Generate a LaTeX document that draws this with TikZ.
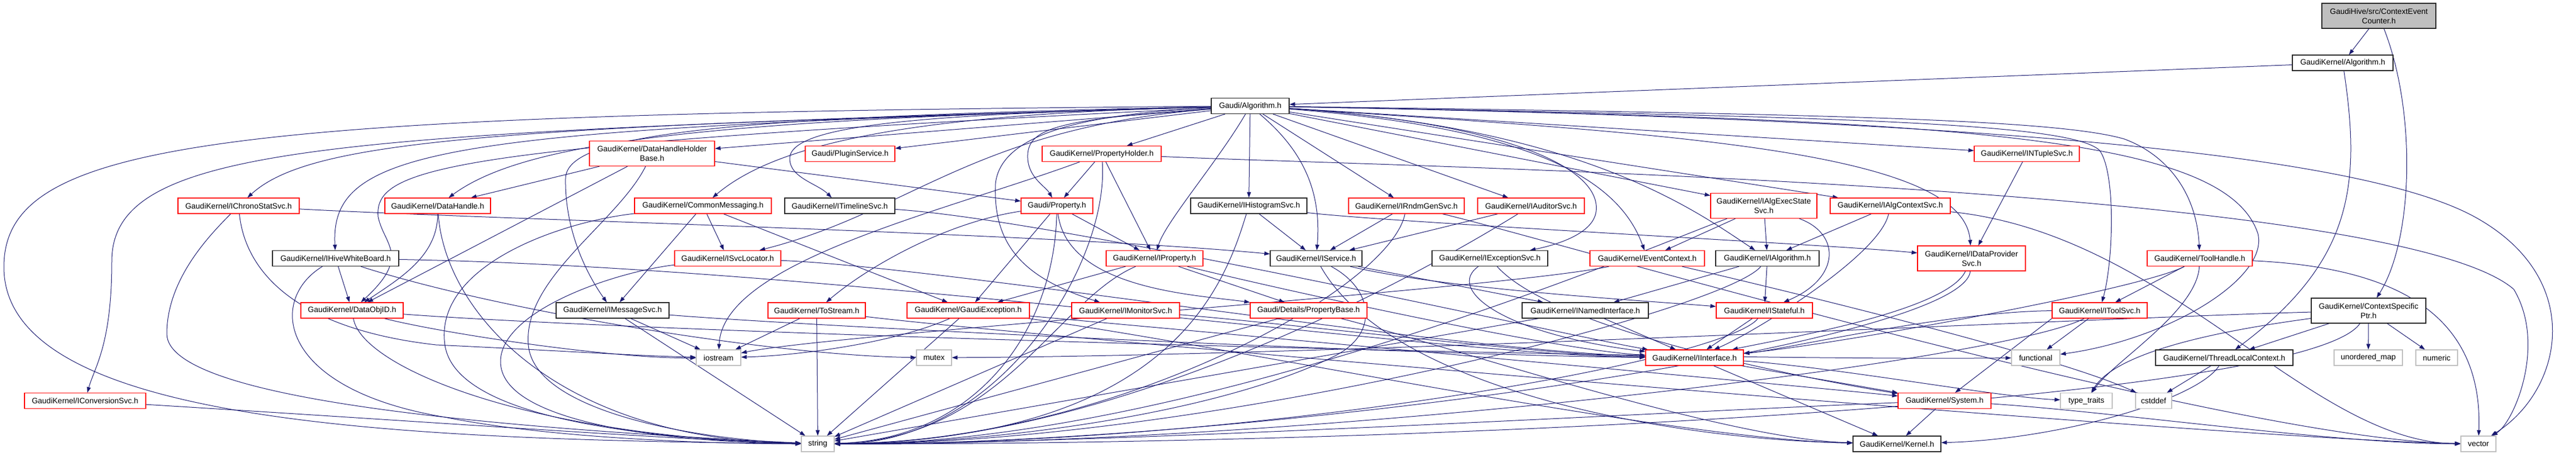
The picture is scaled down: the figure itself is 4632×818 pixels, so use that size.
\documentclass[tikz,border=0pt]{standalone}
\usepackage{fontspec}
\setmainfont{Liberation Sans}
\usetikzlibrary{arrows.meta,backgrounds}
\definecolor{edgeblue}{HTML}{191970}
\definecolor{boxgray}{HTML}{BFBFBF}
\begin{document}
\begin{tikzpicture}[x=1pt,y=1pt]
\tikzset{ >={Triangle[length=10pt,width=7pt]},
  hdrbase/.style={rectangle, fill=white, line width=1.2pt, inner sep=0pt,
    minimum height=28pt, font=\fontsize{14}{17}\selectfont, align=center},
  hdrtrunc/.style={hdrbase, draw=red},
  hdrfull/.style={hdrbase, draw=black!85},
  hdrstd/.style={hdrbase, draw=boxgray},
  hdrmain/.style={hdrbase, draw=black!85, fill=boxgray, minimum height=45pt},
  tallbox/.style={minimum height=45pt},
  dep/.style={->, draw=edgeblue, line width=1pt},
}
\useasboundingbox (0,0) rectangle (4632,-818);

%\draw [lightgray, dashed](0,0) grid (4632,-818);

% top
\node [hdrmain, minimum width=205pt] (cec) at (4277.5,-28.5) {GaudiHive/src/ContextEvent\\Counter.h};
\node [hdrfull, minimum width=181pt] (kalg) at (4212.5,-113) {GaudiKernel/Algorithm.h};
\node [hdrfull, minimum width=140pt] (galg) at (2248,-190.5) {Gaudi/Algorithm.h};

\node [hdrtrunc, tallbox, minimum width=225pt] (dhhb) at (1172.5,-276) {GaudiKernel/DataHandleHolder\\Base.h};
\node [hdrtrunc, minimum width=161pt] (plug) at (1528.5,-276.5) {Gaudi/PluginService.h};
\node [hdrtrunc, minimum width=214pt] (ph) at (1981,-276.5) {GaudiKernel/PropertyHolder.h};
\node [hdrtrunc, minimum width=189pt] (ntup) at (3644.5,-276.5) {GaudiKernel/INTupleSvc.h};

\node [hdrtrunc, minimum width=218pt] (chrono) at (429,-370) {GaudiKernel/IChronoStatSvc.h};
\node [hdrtrunc, minimum width=190pt] (dh) at (787,-370) {GaudiKernel/DataHandle.h};
\node [hdrtrunc, minimum width=246pt] (cm) at (1264,-370) {GaudiKernel/CommonMessaging.h};
\node [hdrfull, minimum width=198pt] (tl) at (1510,-370) {GaudiKernel/ITimelineSvc.h};
\node [hdrtrunc, minimum width=129pt] (prop) at (1900.5,-370) {Gaudi/Property.h};
\node [hdrfull, minimum width=209pt] (hist) at (2245.5,-370) {GaudiKernel/IHistogramSvc.h};
\node [hdrtrunc, minimum width=208pt] (rndm) at (2529,-370) {GaudiKernel/IRndmGenSvc.h};
\node [hdrtrunc, minimum width=192pt] (aud) at (2753,-370) {GaudiKernel/IAuditorSvc.h};
\node [hdrtrunc, tallbox, minimum width=191pt] (aes) at (3171.5,-370) {GaudiKernel/IAlgExecState\\Svc.h};
\node [hdrtrunc, minimum width=216pt] (acs) at (3399,-370) {GaudiKernel/IAlgContextSvc.h};

\node [hdrfull, minimum width=227pt] (hwb) at (603.5,-464.5) {GaudiKernel/IHiveWhiteBoard.h};
\node [hdrtrunc, minimum width=191pt] (svcloc) at (1308.5,-464.5) {GaudiKernel/ISvcLocator.h};
\node [hdrtrunc, minimum width=174pt] (iprop) at (2076,-464.5) {GaudiKernel/IProperty.h};
\node [hdrfull, minimum width=165pt] (isvc) at (2366.5,-464.5) {GaudiKernel/IService.h};
\node [hdrfull, minimum width=208pt] (exc) at (2679,-464.5) {GaudiKernel/IExceptionSvc.h};
\node [hdrtrunc, minimum width=206pt] (evc) at (2962,-464.5) {GaudiKernel/EventContext.h};
\node [hdrfull, minimum width=186pt] (ialg) at (3178,-464.5) {GaudiKernel/IAlgorithm.h};
\node [hdrtrunc, tallbox, minimum width=194pt] (dps) at (3545,-464.5) {GaudiKernel/IDataProvider\\Svc.h};
\node [hdrtrunc, minimum width=189pt] (th) at (3955.5,-464.5) {GaudiKernel/ToolHandle.h};

\node [hdrtrunc, minimum width=184pt] (doid) at (633,-558) {GaudiKernel/DataObjID.h};
\node [hdrfull, minimum width=203pt] (msg) at (1101.5,-558) {GaudiKernel/IMessageSvc.h};
\node [hdrtrunc, minimum width=175pt] (tos) at (1468.5,-558) {GaudiKernel/ToStream.h};
\node [hdrtrunc, minimum width=220pt] (gex) at (1741,-558) {GaudiKernel/GaudiException.h};
\node [hdrtrunc, minimum width=194pt] (mon) at (2024,-558) {GaudiKernel/IMonitorSvc.h};
\node [hdrtrunc, minimum width=210pt] (pb) at (2353,-558) {Gaudi/Details/PropertyBase.h};
\node [hdrfull, minimum width=227pt] (nif) at (2850.5,-558) {GaudiKernel/INamedInterface.h};
\node [hdrtrunc, minimum width=173pt] (stf) at (3172.5,-558) {GaudiKernel/IStateful.h};
\node [hdrtrunc, minimum width=171pt] (tsvc) at (3775.5,-558) {GaudiKernel/IToolSvc.h};
\node [hdrfull, tallbox, minimum width=206pt] (csp) at (4259,-558.5) {GaudiKernel/ContextSpecific\\Ptr.h};

\node [hdrstd, minimum width=80pt] (iostream) at (1292,-643) {iostream};
\node [hdrstd, minimum width=63pt] (mutex) at (1679.5,-643) {mutex};
\node [hdrtrunc, minimum width=176pt] (iif) at (3047,-643) {GaudiKernel/IInterface.h};
\node [hdrstd, minimum width=87pt] (functional) at (3660.5,-643) {functional};
\node [hdrfull, minimum width=247pt] (tlc) at (3999.5,-643) {GaudiKernel/ThreadLocalContext.h};
\node [hdrstd, minimum width=123pt] (umap) at (4258.5,-643) {unordered\_map};
\node [hdrstd, minimum width=75pt] (numeric) at (4381.5,-643) {numeric};

\node [hdrtrunc, minimum width=218pt] (conv) at (153,-720.5) {GaudiKernel/IConversionSvc.h};
\node [hdrtrunc, minimum width=167pt] (sys) at (3496.5,-720.5) {GaudiKernel/System.h};
\node [hdrstd, minimum width=93pt] (tt) at (3751.5,-720.5) {type\_traits};
\node [hdrstd, minimum width=65pt] (cstddef) at (3872.5,-720.5) {cstddef};

\node [hdrstd, minimum width=59pt] (string) at (1470.5,-798) {string};
\node [hdrfull, minimum width=158pt] (kernel) at (3411,-798) {GaudiKernel/Kernel.h};
\node [hdrstd, minimum width=63pt] (vector) at (4456.5,-798) {vector};

\begin{scope}[on background layer]
% root file
\draw [dep] (cec) -- (kalg);
\draw [dep] (cec) .. controls (4345,-200) and (4340,-430) .. (csp);
\draw [dep] (kalg) -- (galg);
\draw [dep] (kalg) .. controls (4245,-330) and (4232,-470) .. (tlc);

% Gaudi/Algorithm.h
\draw [dep] (galg) .. controls (400,-205) and (7,-250) .. (7,-480) .. controls (7,-760) and (700,-790) .. (string);
\draw [dep] (galg) .. controls (600,-240) and (201,-255) .. (201,-470) .. controls (201,-620) and (170,-660) .. (conv);
\draw [dep] (galg) .. controls (900,-228) and (560,-250) .. (chrono);
\draw [dep] (galg) .. controls (800,-232) and (593,-262) .. (hwb);
\draw [dep] (galg) .. controls (800,-262) and (672,-300) .. (680,-390) .. controls (690,-440) and (740,-460) .. (doid);
\draw [dep] (galg) .. controls (1300,-215) and (950,-250) .. (dh);
\draw [dep] (galg) -- (dhhb);
\draw [dep] (galg) .. controls (1650,-205) and (1400,-255) .. (cm);
\draw [dep] (galg) .. controls (1700,-205) and (1420,-220) .. (1420,-285) .. controls (1420,-320) and (1470,-330) .. (tl);
\draw [dep] (galg) -- (plug);
\draw [dep] (galg) -- (ph);
\draw [dep] (galg) .. controls (1900,-215) and (1845,-230) .. (1848,-285) .. controls (1850,-320) and (1880,-335) .. (prop);
\draw [dep] (galg) -- (hist);
\draw [dep] (galg) .. controls (2190,-290) and (2095,-400) .. (iprop);
\draw [dep] (galg) .. controls (1950,-205) and (1800,-240) .. (1790,-330) .. controls (1785,-440) and (1840,-500) .. (mon);
\draw [dep] (galg) .. controls (1300,-210) and (1020,-240) .. (1017,-320) .. controls (1015,-420) and (1060,-500) .. (msg);
\draw [dep] (galg) .. controls (1750,-230) and (1640,-380) .. (svcloc);
\draw [dep] (galg) .. controls (2330,-260) and (2378,-330) .. (isvc);
\draw [dep] (galg) -- (rndm);
\draw [dep] (galg) -- (aud);
\draw [dep] (galg) -- (aes);
\draw [dep] (galg) -- (acs);
\draw [dep] (galg) -- (ntup);
\draw [dep] (galg) .. controls (2700,-220) and (2880,-300) .. (2870,-380) .. controls (2865,-420) and (2800,-440) .. (exc);
\draw [dep] (galg) .. controls (2750,-230) and (2910,-320) .. (evc);
\draw [dep] (galg) .. controls (2850,-230) and (3050,-380) .. (ialg);
\draw [dep] (galg) .. controls (3000,-240) and (3530,-270) .. (dps);
\draw [dep] (galg) .. controls (3300,-205) and (3700,-215) .. (3820,-250) .. controls (3900,-280) and (3950,-350) .. (th);
\draw [dep] (galg) .. controls (3300,-210) and (3720,-220) .. (3775,-270) .. controls (3805,-310) and (3800,-470) .. (tsvc);
\draw [dep] (galg) .. controls (3500,-215) and (4000,-240) .. (4060,-420) .. controls (4080,-500) and (3900,-610) .. (functional);
\draw [dep] (galg) .. controls (3600,-215) and (4250,-280) .. (4450,-390) .. controls (4650,-500) and (4610,-700) .. (vector);

% second and third rows
\draw [dep] (dhhb) -- (dh);
\draw [dep] (dhhb) -- (doid);
\draw [dep] (dhhb) -- (prop);
\draw [dep] (dhhb) .. controls (1110,-400) and (940,-500) .. (950,-620) .. controls (960,-740) and (1250,-790) .. (string);
\draw [dep] (ph) -- (prop);
\draw [dep] (ph) -- (iprop);
\draw [dep] (ph) .. controls (1700,-380) and (1300,-470) .. (iostream);
\draw [dep] (ph) .. controls (1995,-470) and (1800,-798) .. (string);
\draw [dep] (ph) .. controls (2500,-300) and (4300,-330) .. (4520,-520) .. controls (4580,-620) and (4520,-760) .. (vector);
\draw [dep] (ntup) -- (dps);

\draw [dep] (chrono) .. controls (380,-420) and (300,-500) .. (300,-600) .. controls (300,-720) and (900,-770) .. (string);
\draw [dep] (chrono) .. controls (440,-480) and (520,-590) .. (784,-620) .. controls (1000,-630) and (1150,-640) .. (iostream);
\draw [dep] (chrono) .. controls (900,-395) and (1900,-420) .. (isvc);
\draw [dep] (dh) .. controls (787,-460) and (720,-500) .. (doid);
\draw [dep] (dh) .. controls (800,-560) and (1000,-790) .. (string);
\draw [dep] (cm) -- (msg);
\draw [dep] (cm) -- (svcloc);
\draw [dep] (cm) -- (gex);
\draw [dep] (cm) .. controls (1000,-400) and (780,-480) .. (800,-620) .. controls (820,-760) and (1200,-790) .. (string);
\draw [dep] (tl) .. controls (1900,-395) and (2800,-600) .. (iif);
\draw [dep] (prop) .. controls (1920,-520) and (2150,-530) .. (pb);
\draw [dep] (prop) -- (iprop);
\draw [dep] (prop) .. controls (1700,-400) and (1560,-480) .. (tos);
\draw [dep] (prop) -- (gex);
\draw [dep] (prop) .. controls (1895,-600) and (1750,-790) .. (string);
\draw [dep] (hist) -- (isvc);
\draw [dep] (hist) .. controls (2500,-400) and (3300,-440) .. (dps);
\draw [dep] (hist) .. controls (2200,-520) and (2100,-790) .. (string);
\draw [dep] (rndm) -- (isvc);
\draw [dep] (rndm) .. controls (2500,-520) and (2000,-795) .. (string);
\draw [dep] (rndm) .. controls (2750,-420) and (4000,-790) .. (vector);
\draw [dep] (aud) -- (isvc);
\draw [dep] (aud) .. controls (2640,-440) and (2050,-798) .. (string);
\draw [dep] (aes) -- (evc);
\draw [dep] (aes) -- (ialg);
\draw [dep] (aes) .. controls (3310,-420) and (3310,-500) .. (stf);
\draw [dep] (aes) .. controls (3000,-430) and (2150,-800) .. (string);
\draw [dep] (acs) -- (ialg);
\draw [dep] (acs) .. controls (3380,-460) and (3150,-600) .. (iif);
\draw [dep] (acs) .. controls (3900,-420) and (4150,-795) .. (vector);

% row of IService.h
\draw [dep] (hwb) -- (doid);
\draw [dep] (hwb) .. controls (480,-540) and (500,-700) .. (800,-750) .. controls (1000,-790) and (1300,-798) .. (string);
\draw [dep] (hwb) .. controls (900,-560) and (1400,-640) .. (mutex);
\draw [dep] (hwb) .. controls (1500,-480) and (2600,-640) .. (iif);
\draw [dep] (svcloc) .. controls (1700,-480) and (2600,-630) .. (iif);
\draw [dep] (svcloc) .. controls (1100,-490) and (900,-560) .. (900,-650) .. controls (900,-760) and (1200,-795) .. (string);
\draw [dep] (iprop) .. controls (2300,-520) and (2800,-630) .. (iif);
\draw [dep] (iprop) -- (gex);
\draw [dep] (iprop) -- (pb);
\draw [dep] (iprop) .. controls (1900,-540) and (1800,-790) .. (string);
\draw [dep] (isvc) -- (nif);
\draw [dep] (isvc) .. controls (2600,-520) and (2950,-540) .. (stf);
\draw [dep] (isvc) .. controls (2500,-700) and (3000,-790) .. (kernel);
\draw [dep] (isvc) .. controls (2470,-520) and (2480,-600) .. (2400,-640) .. controls (2200,-740) and (1800,-798) .. (string);
\draw [dep] (exc) .. controls (2600,-520) and (2700,-600) .. (iif);
\draw [dep] (exc) .. controls (2800,-600) and (3300,-690) .. (sys);
\draw [dep] (evc) .. controls (2700,-520) and (1500,-600) .. (iostream);
\draw [dep] (evc) .. controls (3200,-520) and (3700,-640) .. (cstddef);
\draw [dep] (ialg) -- (nif);
\draw [dep] (ialg) -- (stf);
\draw [dep] (ialg) .. controls (3100,-560) and (2150,-800) .. (string);
\draw [dep] (dps) .. controls (3500,-560) and (3200,-610) .. (iif);
\draw [dep] (dps) .. controls (3530,-620) and (2250,-800) .. (string);
\draw [dep] (th) -- (tsvc);
\draw [dep] (th) .. controls (4300,-480) and (4465,-560) .. (vector);
\draw [dep] (th) .. controls (3850,-520) and (3300,-620) .. (iif);
\draw [dep] (th) .. controls (3950,-560) and (3800,-650) .. (tt);

% row of INamedInterface.h
\draw [dep] (doid) .. controls (1200,-600) and (3000,-650) .. (functional);
\draw [dep] (doid) .. controls (800,-600) and (1100,-645) .. (iostream);
\draw [dep] (doid) .. controls (650,-660) and (950,-785) .. (string);
\draw [dep] (msg) -- (iostream);
\draw [dep] (msg) -- (string);
\draw [dep] (msg) .. controls (1500,-590) and (2600,-640) .. (iif);
\draw [dep] (tos) -- (iostream);
\draw [dep] (tos) -- (string);
\draw [dep] (tos) .. controls (1800,-600) and (4000,-790) .. (vector);
\draw [dep] (gex) -- (string);
\draw [dep] (gex) .. controls (1600,-620) and (1420,-640) .. (iostream);
\draw [dep] (gex) .. controls (2200,-600) and (3200,-690) .. (sys);
\draw [dep] (gex) .. controls (2200,-620) and (3000,-790) .. (kernel);
\draw [dep] (mon) -- (string);
\draw [dep] (mon) .. controls (2300,-580) and (2800,-640) .. (iif);
\draw [dep] (pb) -- (string);
\draw [dep] (pb) .. controls (2600,-620) and (3100,-790) .. (kernel);
\draw [dep] (nif) -- (iif);
\draw [dep] (nif) -- (string);
\draw [dep] (stf) -- (iif);
\draw [dep] (stf) .. controls (3100,-650) and (2250,-800) .. (string);
\draw [dep] (tsvc) -- (functional);
\draw [dep] (tsvc.south west) -- (sys);
\draw [dep] (tsvc) .. controls (3500,-560) and (3200,-630) .. (iif);
\draw [dep] (tsvc) .. controls (3600,-650) and (2350,-800) .. (string);
\draw [dep] (csp) -- (tlc);
\draw [dep] (csp) -- (umap);
\draw [dep] (csp) -- (numeric);
\draw [dep] (csp) .. controls (3950,-600) and (3800,-640) .. (tt);
\draw [dep] (csp) .. controls (3800,-570) and (2400,-640) .. (mutex);
\draw [dep] (csp) .. controls (4150,-720) and (2600,-800) .. (string);

% bottom rows
\draw [dep] (iif) -- (kernel);
\draw [dep] (iif) -- (sys);
\draw [dep] (iif) .. controls (3300,-660) and (3600,-715) .. (tt);
\draw [dep] (tlc) -- (cstddef);
\draw [dep] (tlc) .. controls (3950,-720) and (3700,-790) .. (kernel);
\draw [dep] (sys) -- (kernel);
\draw [dep] (sys) .. controls (3000,-740) and (2000,-798) .. (string);
\draw [dep] (sys) .. controls (3800,-740) and (4200,-798) .. (vector);
\draw [dep] (conv) .. controls (800,-760) and (1200,-790) .. (string);
\end{scope}

\end{tikzpicture}
\end{document}
